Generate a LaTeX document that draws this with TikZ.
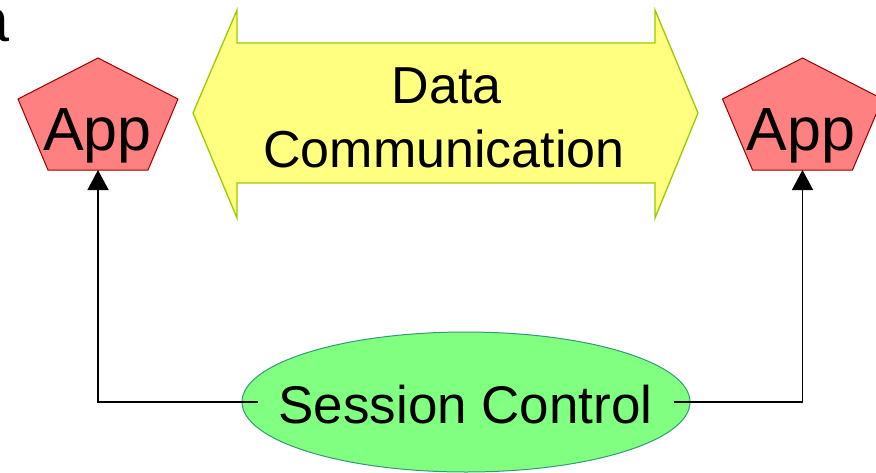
\documentclass[tikz,border=0pt]{standalone}
\usepackage{fontspec}
\setmainfont{Liberation Sans}
\usetikzlibrary{arrows.meta,shapes.geometric}

\definecolor{appfill}{HTML}{FF8080}
\definecolor{appedge}{HTML}{990000}
\definecolor{datafill}{HTML}{FFFF80}
\definecolor{dataedge}{HTML}{99CC00}
\definecolor{sessfill}{HTML}{80FF80}
\definecolor{sessedge}{HTML}{339977}

\tikzset{
  apptext/.style={font=\fontsize{61}{61}\selectfont, inner sep=0pt, anchor=base},
  appshape/.style={fill=appfill, draw=appedge, line width=1pt, line join=miter},
  datashape/.style={fill=datafill, draw=dataedge, line width=1.3pt, line join=miter},
  datatext/.style={font=\fontsize{52}{52}\selectfont, inner sep=0pt, anchor=base},
  session/.style={ellipse, fill=sessfill, draw=sessedge, line width=1pt,
    minimum width=448pt, minimum height=140pt, inner sep=0pt},
  sesstext/.style={font=\fontsize{53}{53}\selectfont, inner sep=0pt, anchor=base},
  link/.style={draw=black, line width=1.5pt, -{Triangle[length=20pt,width=21pt]}}
}

\begin{document}
\begin{tikzpicture}[x=1pt,y=-1pt]
\useasboundingbox (0,0) rectangle (876,472);
\clip (0,0) rectangle (876,472);

% cut-off letter at the upper left edge
\node[apptext, anchor=base east] (stray) at (9.5,41) {a};

% application pentagons
\foreach \n/\cx in {appL/98, appR/802.5} {
  \draw[appshape] (\cx,58) -- (\cx+80,99) -- (\cx+50,170) -- (\cx-50,170)
    -- (\cx-80,99) -- cycle;
  \coordinate (\n) at (\cx,170);
}
\node[apptext] (appLtxt) at (97.5,150) {App};
\node[apptext] (appRtxt) at (801,150) {App};

% double-headed data arrow
\draw[datashape] (193,113) -- (237,10) -- (237,43) -- (655,43) -- (655,10)
  -- (698,113) -- (655,218) -- (655,183) -- (237,183) -- (237,218) -- cycle;
\node[datatext] (data) at (446.5,103) {Data};
\node[datatext] (comm) at (444,167) {Communication};

% session control ellipse
\node[session] (sess) at (466,402) {};
\node[sesstext] (sesstxt) at (465.5,423) {Session Control};

% control links to both applications
\coordinate (sessW) at ([xshift=16pt]sess.west);
\coordinate (sessE) at ([xshift=-17pt]sess.east);
\draw[link] (sessW) -| (appL);
\draw[link] (sessE) -| (appR);
\end{tikzpicture}
\end{document}
